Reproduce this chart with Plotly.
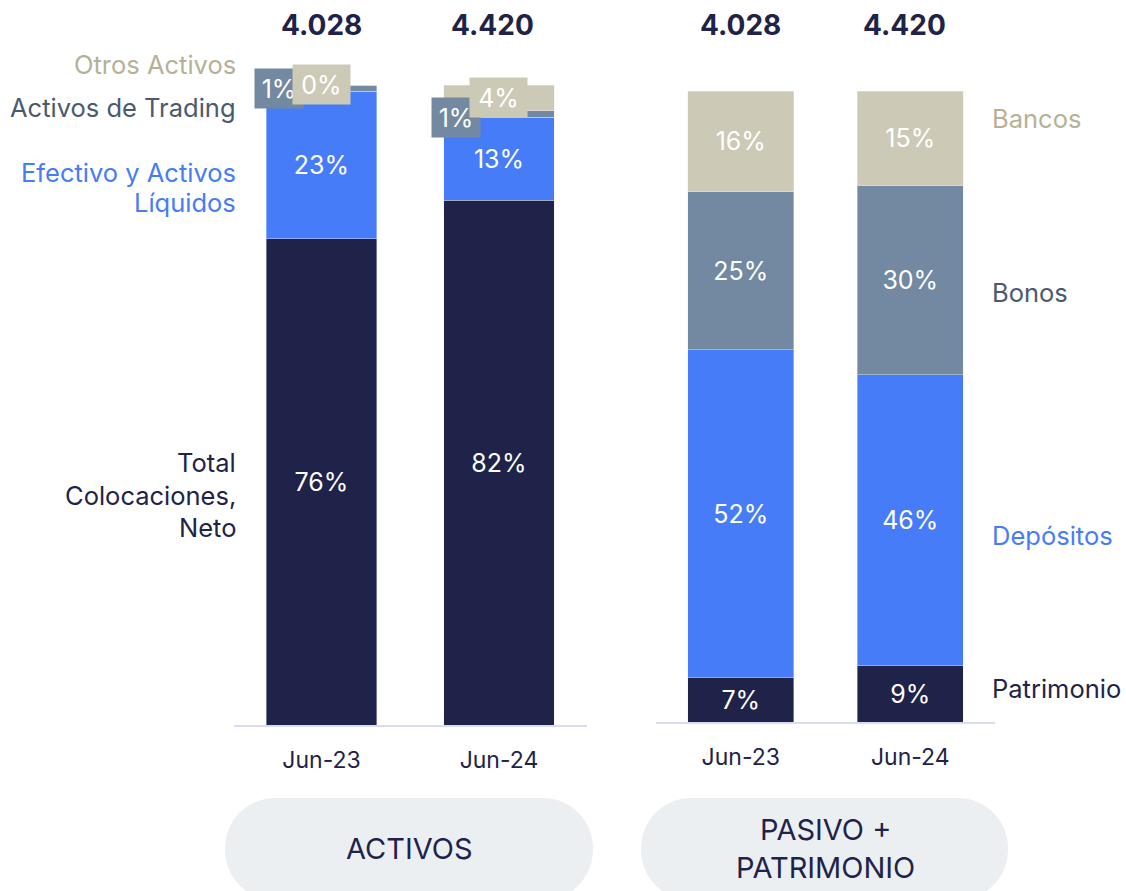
import plotly.graph_objects as go

W, H = 1126, 891

# ---------------- data ----------------
categories = ["Jun-23", "Jun-24"]
totals = ["4.028", "4.420"]

# Activos (bottom -> top)
act_colocaciones = [76, 82]
act_efectivo = [23, 13]
act_trading = [1, 1]
act_otros = [0, 4]

# Pasivo + Patrimonio (bottom -> top)
pas_patrimonio = [7, 9]
pas_depositos = [52, 46]
pas_bonos = [25, 30]
pas_bancos = [16, 15]

# ---------------- styles ----------------
NAVY = "#1F2349"
BLUE = "#477CF8"
SLATE = "#7289A1"
BEIGE = "#CDC9B7"
SLATE_TXT = "#4A5A6E"
BEIGE_TXT = "#B6B196"
FONT = "Inter"
PCT_SIZE = 25
LBL_SIZE = 25.5

def fx(x):
    return x / W

def fy(y):
    return 1 - y / H

fig = go.Figure()

def add_bar(name, vals, color, xa, ya, show_text=True):
    fig.add_trace(go.Bar(
        name=name, x=categories, y=vals,
        marker=dict(color=color, line=dict(width=0.6, color="rgba(230,235,250,0.7)")),
        text=[f"{v}%" for v in vals] if show_text else None,
        textposition="inside" if show_text else "none",
        insidetextanchor="middle", textangle=0,
        textfont=dict(color="white", size=PCT_SIZE, family=FONT),
        width=0.625, xaxis=xa, yaxis=ya, hoverinfo="skip",
    ))

add_bar("Total Colocaciones, Neto", act_colocaciones, NAVY, "x", "y")
add_bar("Efectivo y Activos Líquidos", act_efectivo, BLUE, "x", "y")
add_bar("Activos de Trading", act_trading, SLATE, "x", "y", show_text=False)
add_bar("Otros Activos", act_otros, BEIGE, "x", "y", show_text=False)

add_bar("Patrimonio", pas_patrimonio, NAVY, "x2", "y2")
add_bar("Depósitos", pas_depositos, BLUE, "x2", "y2")
add_bar("Bonos", pas_bonos, SLATE, "x2", "y2")
add_bar("Bancos", pas_bancos, BEIGE, "x2", "y2")

ann = []

# boxed labels for small segments (activos)
for i in range(2):
    top_trading = act_colocaciones[i] + act_efectivo[i] + act_trading[i]
    top_otros = top_trading + act_otros[i]
    yshift_tr = -3.5 if i == 0 else -6.4
    ann.append(dict(x=i - 0.24, y=top_trading, xref="x", yref="y",
                    xanchor="center", yanchor="middle",
                    text=f"{act_trading[i]}%", showarrow=False,
                    bgcolor=SLATE, width=48, height=39, borderpad=0,
                    font=dict(color="white", size=PCT_SIZE, family=FONT),
                    yshift=yshift_tr))
    yshift_ot = 0.5 if i == 0 else -12.5
    ann.append(dict(x=i, y=top_otros, xref="x", yref="y",
                    xanchor="center", yanchor="middle",
                    text=f"{act_otros[i]}%", showarrow=False,
                    bgcolor=BEIGE, width=57, height=39, borderpad=0,
                    font=dict(color="white", size=PCT_SIZE, family=FONT),
                    yshift=yshift_ot))

# totals
for i, t in enumerate(totals):
    for xr in ("x", "x2"):
        ann.append(dict(x=i, y=fy(25), xref=xr, yref="paper",
                        xanchor="center", yanchor="middle",
                        text=f"<b>{t}</b>", showarrow=False,
                        xshift=(0 if i == 0 else -6),
                        font=dict(color=NAVY, size=28, family=FONT)))

# left side labels (right aligned)
left_labels = [
    ("Otros Activos", 64, BEIGE_TXT),
    ("Activos de Trading", 107, SLATE_TXT),
    ("Efectivo y Activos", 172, BLUE),
    ("Líquidos", 203, BLUE),
    ("Total", 463, NAVY),
    ("Colocaciones,", 495, NAVY),
    ("Neto", 527, NAVY),
]
for txt, y, c in left_labels:
    ann.append(dict(x=fx(238), y=fy(y), xref="paper", yref="paper",
                    xanchor="right", yanchor="middle", text=txt, showarrow=False,
                    font=dict(color=c, size=LBL_SIZE, family=FONT)))

right_labels = [
    ("Bancos", 119, BEIGE_TXT),
    ("Bonos", 292, SLATE_TXT),
    ("Depósitos", 535, BLUE),
    ("Patrimonio", 688, NAVY),
]
for txt, y, c in right_labels:
    ann.append(dict(x=fx(990), y=fy(y), xref="paper", yref="paper",
                    xanchor="left", yanchor="middle", text=txt, showarrow=False,
                    font=dict(color=c, size=LBL_SIZE, family=FONT)))

# pills
def pill(x0, x1, y0, y1, r):
    k = 0.5523 * r
    p = lambda x, y: f"{fx(x):.5f},{fy(y):.5f}"
    d = f"M {p(x0 + r, y0)} L {p(x1 - r, y0)} "
    d += f"C {p(x1 - r + k, y0)} {p(x1, y0 + r - k)} {p(x1, y0 + r)} "
    d += f"L {p(x1, y1 - r)} "
    d += f"C {p(x1, y1 - r + k)} {p(x1 - r + k, y1)} {p(x1 - r, y1)} "
    d += f"L {p(x0 + r, y1)} "
    d += f"C {p(x0 + r - k, y1)} {p(x0, y1 - r + k)} {p(x0, y1 - r)} "
    d += f"L {p(x0, y0 + r)} "
    d += f"C {p(x0, y0 + r - k)} {p(x0 + r - k, y0)} {p(x0 + r, y0)} Z"
    return dict(type="path", path=d, xref="paper", yref="paper",
                fillcolor="#ECEFF2", line=dict(width=0), layer="below")

shapes = [pill(225, 593, 798, 900, 50), pill(641, 1008, 798, 900, 50)]

for txt, x, y in (("ACTIVOS", 409, 848), ("PASIVO +", 825, 829), ("PATRIMONIO", 825, 867)):
    ann.append(dict(x=fx(x), y=fy(y), xref="paper", yref="paper", text=txt,
                    xanchor="center", yanchor="middle", showarrow=False,
                    font=dict(color=NAVY, size=29, family=FONT)))

axis_common = dict(type="category", showgrid=False, zeroline=False, showline=True,
                   linecolor="#D8DCF2", linewidth=2, ticks="outside", ticklen=13,
                   tickcolor="rgba(0,0,0,0)",
                   tickfont=dict(color=NAVY, size=23, family=FONT), fixedrange=True)

fig.update_layout(
    width=W, height=H, margin=dict(l=0, r=0, t=0, b=0),
    paper_bgcolor="white", plot_bgcolor="rgba(0,0,0,0)",
    barmode="stack", showlegend=False,
    xaxis=dict(domain=[fx(234), fx(587)], range=[-0.493, 1.496], anchor="y", **axis_common),
    yaxis=dict(domain=[fy(725), fy(85)], range=[0, 100], visible=False, fixedrange=True),
    xaxis2=dict(domain=[fx(656), fx(995)], range=[-0.5, 1.5], anchor="y2", **axis_common),
    yaxis2=dict(domain=[fy(722), fy(91)], range=[0, 100], visible=False, fixedrange=True),
    annotations=ann, shapes=shapes,
)

fig.write_html("out.html", config={"displayModeBar": False},
               post_script="document.body.style.margin='0';")
